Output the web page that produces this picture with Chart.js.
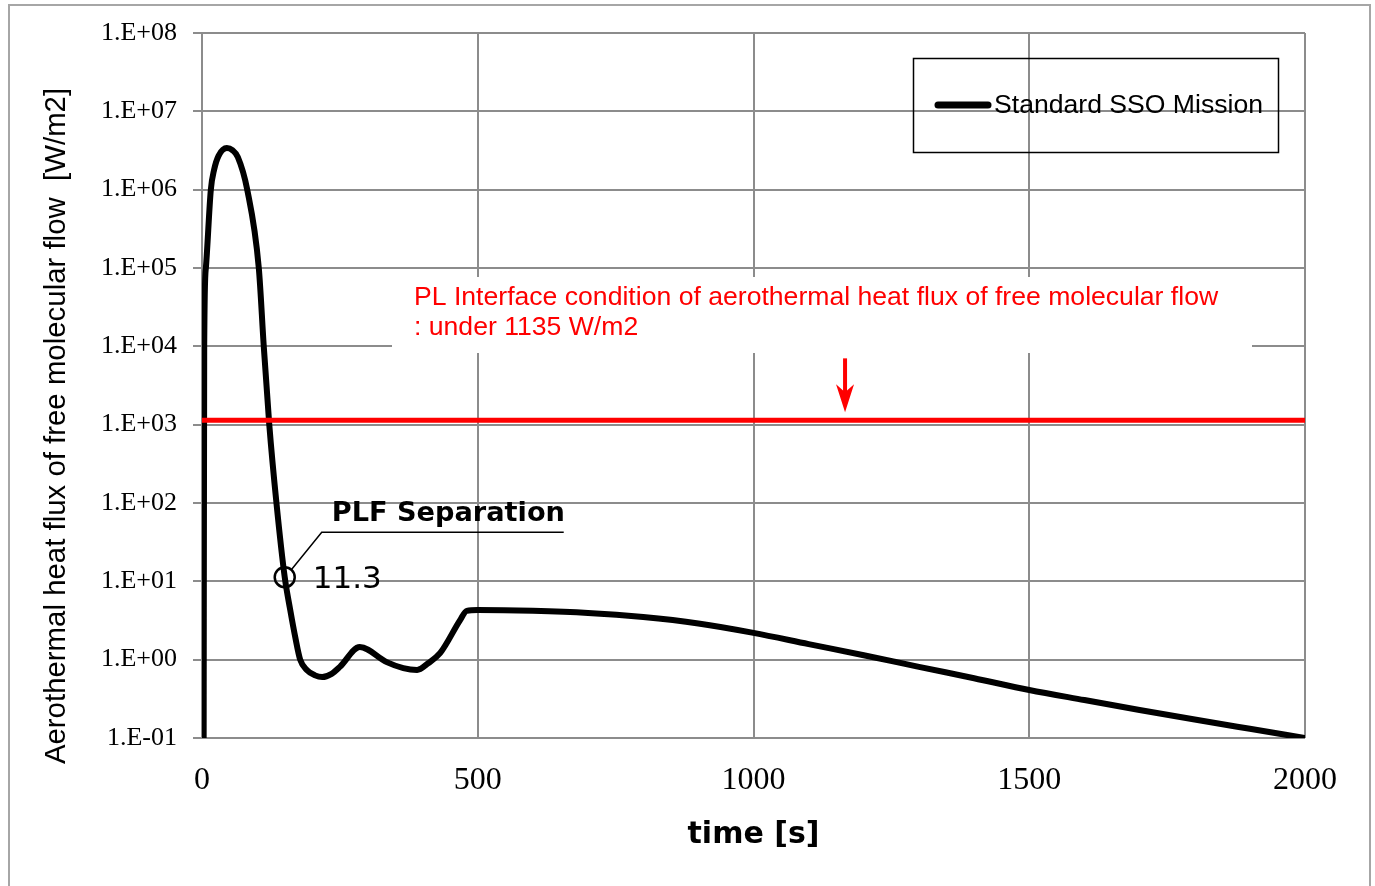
<!DOCTYPE html>
<html>
<head>
<meta charset="utf-8">
<script src="https://cdn.jsdelivr.net/npm/chart.js@4.4.1/dist/chart.umd.min.js"></script>
<style>
html,body{margin:0;padding:0;background:#fff;}
#wrap{position:relative;width:1375px;height:886px;overflow:hidden;}
#frame{position:absolute;left:8px;top:4px;width:1359px;height:920px;border:2px solid #a6a6a6;pointer-events:none;}
canvas{position:absolute;left:0;top:0;}
</style>
</head>
<body>
<div id="wrap">
  <canvas id="chart" width="1375" height="886"></canvas>
  <div id="frame"></div>
</div>
<script>
// ── DATA ──
const timeS = [3, 4, 7, 16, 22, 30, 45, 55, 65, 82, 103, 112, 122, 135, 150, 160, 169, 178, 190, 205, 218, 235, 250, 286, 335, 365, 390, 410, 432, 468, 480, 500, 600, 700, 800, 900, 1000, 1100, 1200, 1300, 1400, 1500, 1600, 1700, 1800, 1900, 2000];
const heatFlux = [0.1, 1e4, 1e5, 1e6, 1.8e6, 2.7e6, 3.4e6, 3.2e6, 2.6e6, 1e6, 1e5, 1e4, 1e3, 1e2, 11.3, 4.3, 1.95, 1.0, 0.74, 0.63, 0.6, 0.66, 0.81, 1.45, 0.93, 0.78, 0.74, 0.9, 1.22, 3.2, 4.2, 4.3, 4.2, 3.95, 3.5, 2.9, 2.2, 1.58, 1.14, 0.81, 0.58, 0.41, 0.305, 0.228, 0.172, 0.131, 0.1];
const limitTime = [0, 2000];
const limitFlux = [1135, 1135];
const plfTime = [150];
const plfFlux = [11.3];
const xTicks = [0, 500, 1000, 1500, 2000];
const yTicks = [1e-1, 1e0, 1e1, 1e2, 1e3, 1e4, 1e5, 1e6, 1e7, 1e8];

const seriesLabel = 'Standard SSO Mission';
const limitText = ['PL Interface condition of aerothermal heat flux of free molecular flow', ': under 1135 W/m2'];
const yTitle = 'Aerothermal heat flux of free molecular flow  [W/m2]';

const pts = (xs, ys) => xs.map((x, i) => ({x, y: ys[i]}));

function expLabel(v){
  const e = Math.round(Math.log10(v));
  return '1.E' + (e < 0 ? '-' : '+') + String(Math.abs(e)).padStart(2, '0');
}

// ── ANNOTATIONS ──
const annotations = {
  id: 'annotations',
  beforeDatasetsDraw(chart){
    const {ctx} = chart;
    // white box behind the red note
    ctx.save();
    ctx.fillStyle = '#fff';
    ctx.fillRect(392, 277, 860, 76);
    ctx.restore();
  },
  afterDraw(chart){
    const {ctx, scales:{x, y}} = chart;
    ctx.save();

    // red note
    ctx.fillStyle = '#ff0000';
    ctx.font = '26.6px "Liberation Sans", Arial, sans-serif';
    ctx.textBaseline = 'middle';
    ctx.textAlign = 'left';
    ctx.fillText(limitText[0], 414, 298);
    ctx.fillText(limitText[1], 414, 328);

    // red arrow pointing at the limit line
    const ax = x.getPixelForValue(1166);
    const ay = y.getPixelForValue(limitFlux[0]);
    ctx.strokeStyle = '#ff0000';
    ctx.lineWidth = 4;
    ctx.beginPath();
    ctx.moveTo(ax, ay - 62);
    ctx.lineTo(ax, ay - 22);
    ctx.stroke();
    ctx.beginPath();
    ctx.moveTo(ax - 9, ay - 36);
    ctx.lineTo(ax, ay - 8);
    ctx.lineTo(ax + 9, ay - 36);
    ctx.lineTo(ax, ay - 28);
    ctx.closePath();
    ctx.fillStyle = '#ff0000';
    ctx.fill();

    // PLF separation leader
    const px = x.getPixelForValue(plfTime[0]);
    const py = y.getPixelForValue(plfFlux[0]);
    ctx.strokeStyle = '#000';
    ctx.lineWidth = 1.5;
    ctx.beginPath();
    ctx.moveTo(px + 7, py - 8);
    ctx.lineTo(px + 37, py - 45);
    ctx.lineTo(px + 279, py - 45);
    ctx.stroke();
    ctx.fillStyle = '#000';
    ctx.font = 'bold 27.2px "DejaVu Sans", Verdana, sans-serif';
    ctx.textBaseline = 'alphabetic';
    ctx.fillText('PLF Separation', px + 47, py - 56);
    ctx.font = '31px "DejaVu Sans", Verdana, sans-serif';
    ctx.textBaseline = 'middle';
    ctx.fillText(String(plfFlux[0]), px + 28, py + 3);

    // legend box
    ctx.strokeStyle = '#000';
    ctx.lineWidth = 1.5;
    ctx.strokeRect(913.5, 58.5, 365, 94);
    ctx.lineWidth = 7;
    ctx.lineCap = 'round';
    ctx.beginPath();
    ctx.moveTo(938, 105);
    ctx.lineTo(988, 105);
    ctx.stroke();
    ctx.font = '26.6px "Liberation Sans", Arial, sans-serif';
    ctx.fillText(seriesLabel, 994, 106);

    // y axis title
    ctx.translate(57, 426);
    ctx.rotate(-Math.PI / 2);
    ctx.textAlign = 'center';
    ctx.font = '29.4px "Liberation Sans", Arial, sans-serif';
    ctx.fillText(yTitle, 0, 0);
    ctx.restore();
  }
};

// ── CHART ──
new Chart(document.getElementById('chart'), {
  type: 'line',
  data: {
    datasets: [
      {label: 'PLF', data: pts(plfTime, plfFlux), showLine: false, pointRadius: 10, pointBorderWidth: 2.5,
       pointBorderColor: '#000', pointBackgroundColor: 'rgba(0,0,0,0)', order: 0},
      {label: 'limit', data: pts(limitTime, limitFlux), borderColor: '#ff0000', borderWidth: 5,
       pointRadius: 0, order: 1},
      {label: seriesLabel, data: pts(timeS, heatFlux), borderColor: '#000', borderWidth: 6,
       pointRadius: 0, cubicInterpolationMode: 'monotone', borderJoinStyle: 'round', order: 2}
    ]
  },
  options: {
    responsive: false,
    animation: false,
    devicePixelRatio: 1,
    layout: {padding: {top: 33, right: 70, left: 0, bottom: 0}},
    plugins: {legend: {display: false}, tooltip: {enabled: false}},
    scales: {
      x: {
        type: 'linear', min: 0, max: 2000,
        afterBuildTicks: s => { s.ticks = xTicks.map(v => ({value: v})); },
        afterFit: s => { s.height = 148; },
        grid: {color: '#8c8c8c', lineWidth: 2, drawTicks: false},
        border: {display: false},
        ticks: {color: '#000', font: {family: '"Liberation Serif", serif', size: 32}, padding: 23, maxRotation: 0,
                callback: v => String(v)},
        title: {display: true, text: 'time [s]', color: '#000',
                font: {family: '"DejaVu Sans", Verdana, sans-serif', size: 30, weight: 'bold'}, padding: {bottom: 33}}
      },
      y: {
        type: 'logarithmic', min: 0.1, max: 1e8,
        afterBuildTicks: s => { s.ticks = yTicks.map(v => ({value: v})); },
        afterFit: s => { s.width = 202; },
        grid: {color: '#8c8c8c', lineWidth: 2, tickLength: 9},
        border: {display: false},
        ticks: {color: '#000', font: {family: '"Liberation Serif", serif', size: 26}, padding: 16,
                callback: v => expLabel(v)}
      }
    }
  },
  plugins: [annotations]
});
</script>
</body>
</html>
